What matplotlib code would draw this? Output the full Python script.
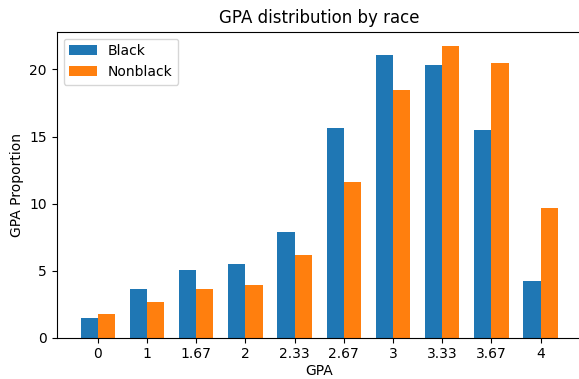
import numpy as np
import matplotlib.pyplot as plt

# Data
gpa_labels = ['0', '1', '1.67', '2', '2.33', '2.67', '3', '3.33', '3.67', '4']
black = [1.49, 3.62, 5.04, 5.49, 7.87, 15.6, 21.06, 20.3, 15.5, 4.22]
nonblack = [1.76, 2.66, 3.62, 3.92, 6.15, 11.6, 18.5, 21.73, 20.45, 9.67]

width = 0.35
x = np.arange(len(gpa_labels))

fig = plt.figure(figsize=(5.79, 3.79), dpi=100)
# axes runs a bit past the right edge, as in the reference
ax = fig.add_axes([56.7 / 579, 41.3 / 379, 525 / 579, 306 / 379])

ax.bar(x - width / 2, black, width, label='Black', color='#1f77b4')
ax.bar(x + width / 2, nonblack, width, label='Nonblack', color='#ff7f0e')

ax.set_xticks(x)
ax.set_xticklabels(gpa_labels)
ax.set_xlabel('GPA', labelpad=2)
ax.set_ylabel('GPA Proportion')
ax.set_title('GPA distribution by race')
ax.legend(loc='upper left')

fig.savefig('out.png', dpi=100)
